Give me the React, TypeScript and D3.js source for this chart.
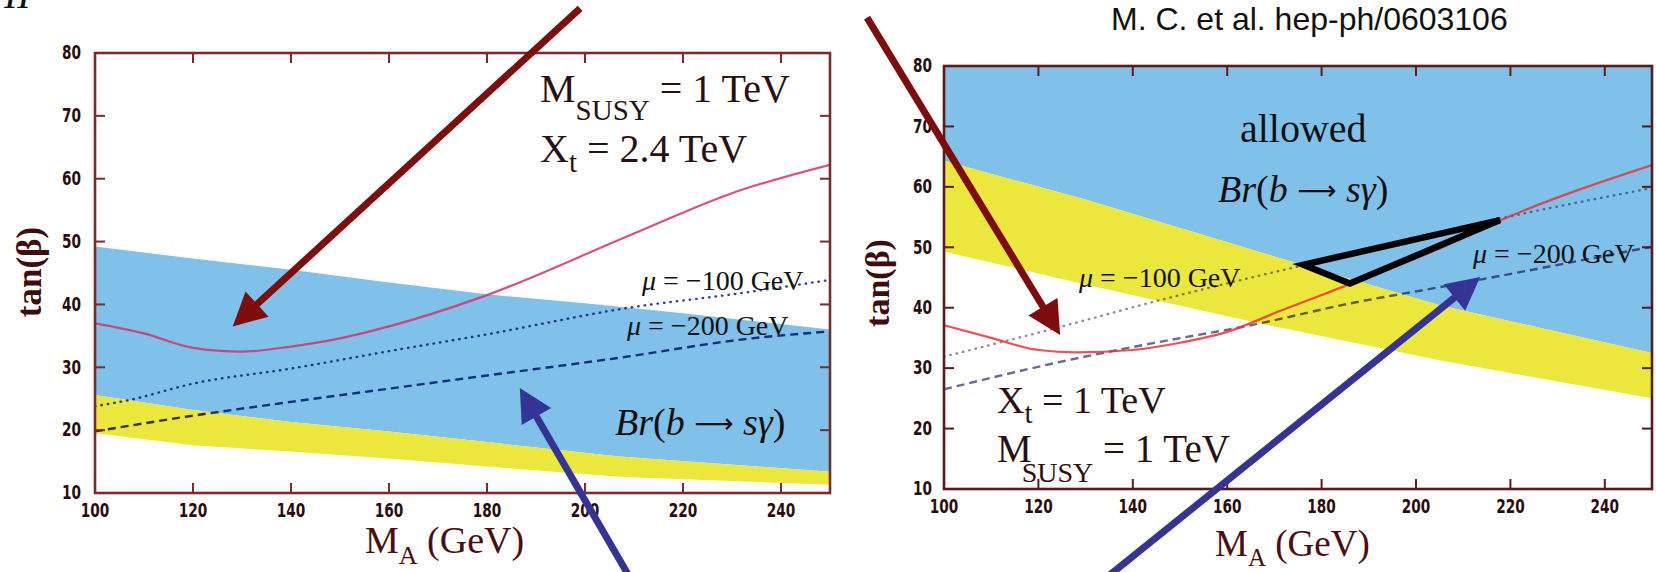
import React from "react";
import * as d3 from "d3";

type P = [number, number];

// ---------- shared axes ----------
const xDomain: P = [100, 250];
const yDomain: P = [10, 80];
const xTickLabels = [100, 120, 140, 160, 180, 200, 220, 240];
const yTickLabels = [10, 20, 30, 40, 50, 60, 70, 80];

// ---------- Left panel (X_t = 2.4 TeV) : [M_A, tanβ] ----------
const leftBlueTop: P[] = [[100, 49.2], [120, 47.3], [140, 45.5], [160, 43.5], [180, 41.6], [200, 40.2], [220, 38.6], [250, 36]];
const leftYellowTop: P[] = [[100, 25.6], [120, 23.2], [140, 21.3], [160, 19.8], [180, 18.1], [207, 15.8], [250, 13.4]];
const leftYellowBottom: P[] = [[100, 19.5], [120, 17.6], [140, 16.6], [160, 15.5], [180, 14.2], [207, 12.6], [250, 11.3]];
const leftHiggs: P[] = [[100, 37], [110, 35.4], [120, 33.1], [130, 32.5], [140, 33.3], [150, 34.6], [160, 36.5], [179, 41.2], [210, 51.3], [230, 57.7], [250, 62.2]];
const leftMu100: P[] = [[100, 23.8], [107, 24.8], [120, 27.4], [140, 29.8], [161, 32.7], [179, 35.1], [210, 39.6], [230, 41.6], [250, 43.9]];
const leftMu200: P[] = [[100, 19.8], [120, 22.3], [140, 24.5], [160, 26.6], [180, 28.7], [206, 31.4], [234, 34.6], [250, 35.7]];
const leftArrowRed: P[] = [[199, 87.1], [128.1, 36.5]];
const leftArrowBlue: P[] = [[211.2, -6.2], [186.7, 26.7]];

// ---------- Right panel (X_t = 1 TeV) ----------
const rightBlueTop: P[] = xDomain.map((v) => [v, yDomain[1]] as P);
const rightYellowTop: P[] = [[100, 64.3], [129, 58.1], [150, 53.2], [175, 47.3], [205, 40.4], [250, 32.5]];
const rightYellowBottom: P[] = [[100, 49.3], [129, 44.0], [167, 37.4], [205, 31.3], [250, 25]];
const rightHiggs: P[] = [[100, 37.1], [110, 35.0], [120, 33.0], [128, 32.6], [140, 33.0], [150, 34.2], [160, 36.0], [171, 39.4], [186, 43.9], [205, 49.8], [218, 54.5], [250, 63.6]];
const rightMu100: P[] = [[100, 31.9], [125, 36.9], [145, 41.1], [163, 44.6], [176, 47], [218, 54.8], [250, 59.8]];
const rightMu200: P[] = [[100, 26.5], [125, 31.1], [144, 34.1], [165, 37.1], [186, 40.7], [205, 43.4], [250, 50.1]];
const rightArrowRed: P[] = [[83.7, 88], [124.6, 35.5]];
const rightArrowBlue: P[] = [[129.9, -7.5], [213.6, 45.1]];
const rightTriangle: P[] = [[176.1, 47.1], [186, 44.0], [217.8, 54.5]];

const serif = "'Liberation Serif', 'DejaVu Serif', 'Times New Roman', serif";
const sans = "'Liberation Sans', Arial, sans-serif";
const BLUE = "#80c1ea";
const YELLOW = "#ebe73c";

type PanelProps = {
  id: string;
  xr: P;
  yr: P;
  frame: string;
  blueTop: P[];
  yellowTop: P[];
  yellowBottom: P[];
  higgs: P[];
  higgsColor: string;
  mu100: P[];
  mu100Color: string;
  mu200: P[];
  mu200Color: string;
  yLabelGap: number;
  xLabelOff: number;
  children?: (x: d3.ScaleLinear<number, number>, y: d3.ScaleLinear<number, number>) => React.ReactNode;
};

function Arrow({ x, y, pts, color, width }: { x: any; y: any; pts: P[]; color: string; width: number }) {
  const x0 = x(pts[0][0]), y0 = y(pts[0][1]);
  const x1 = x(pts[1][0]), y1 = y(pts[1][1]);
  const dx = x1 - x0, dy = y1 - y0;
  const L = Math.hypot(dx, dy);
  const ux = dx / L, uy = dy / L;
  const headLen = 33, half = 17;
  const bx = x1 - ux * headLen, by = y1 - uy * headLen;
  const px = -uy, py = ux;
  return (
    <g>
      <line x1={x0} y1={y0} x2={bx + ux * 3} y2={by + uy * 3} stroke={color} strokeWidth={width} />
      <polygon points={`${x1},${y1} ${bx + px * half},${by + py * half} ${bx - px * half},${by - py * half}`} fill={color} />
    </g>
  );
}

function Panel(p: PanelProps) {
  const x = d3.scaleLinear().domain(xDomain).range(p.xr);
  const y = d3.scaleLinear().domain(yDomain).range(p.yr);
  const lin = d3.line<P>().x((d) => x(d[0])).y((d) => y(d[1]));
  const smooth = d3.line<P>().x((d) => x(d[0])).y((d) => y(d[1])).curve(d3.curveMonotoneX);
  const band = (top: P[], bottom: P[]) => lin([...top, ...[...bottom].reverse()]) + "Z";
  const [xl, xrr] = p.xr;
  const [yb, yt] = p.yr;
  const tick = 10;
  const xMarks = xTickLabels.filter((v) => v > xDomain[0]);
  const yMarks = yTickLabels.filter((v) => v > yDomain[0] && v < yDomain[1]);
  return (
    <g>
      <defs>
        <clipPath id={p.id}>
          <rect x={xl} y={yt} width={xrr - xl} height={yb - yt} />
        </clipPath>
      </defs>
      <g clipPath={`url(#${p.id})`}>
        <path d={band(p.blueTop, p.yellowTop)} fill={BLUE} />
        <path d={band(p.yellowTop, p.yellowBottom)} fill={YELLOW} />
        <path d={smooth(p.mu100) || ""} fill="none" stroke={p.mu100Color} strokeWidth={2.4} strokeLinecap="round" strokeDasharray="0.5 6" style={{ mixBlendMode: "multiply" }} />
        <path d={smooth(p.mu200) || ""} fill="none" stroke={p.mu200Color} strokeWidth={2.4} strokeDasharray="8 5" style={{ mixBlendMode: "multiply" }} />
        <path d={smooth(p.higgs) || ""} fill="none" stroke={p.higgsColor} strokeWidth={2.2} opacity={0.85} />
      </g>
      {/* frame */}
      <rect x={xl} y={yt} width={xrr - xl} height={yb - yt} fill="none" stroke={p.frame} strokeWidth={2.6} />
      {xMarks.map((v) => (
        <g key={"xt" + v}>
          <line x1={x(v)} x2={x(v)} y1={yb} y2={yb - tick} stroke={p.frame} strokeWidth={2} />
          <line x1={x(v)} x2={x(v)} y1={yt} y2={yt + tick} stroke={p.frame} strokeWidth={2} />
        </g>
      ))}
      {yMarks.map((v) => (
        <g key={"yt" + v}>
          <line x1={xl} x2={xl + tick} y1={y(v)} y2={y(v)} stroke={p.frame} strokeWidth={2} />
          <line x1={xrr} x2={xrr - tick} y1={y(v)} y2={y(v)} stroke={p.frame} strokeWidth={2} />
        </g>
      ))}
      {xTickLabels.map((v) => (
        <text
          key={"xl" + v}
          transform={`translate(${x(v)},${yb + p.xLabelOff}) scale(0.72,1)`}
          textAnchor="middle"
          dominantBaseline="central"
          fontFamily="'DejaVu Sans', sans-serif"
          fontWeight="bold"
          fontSize={19}
          fill="#2a0c0c"
        >
          {v}
        </text>
      ))}
      {yTickLabels.map((v) => (
        <text
          key={"yl" + v}
          transform={`translate(${xl - p.yLabelGap},${y(v)}) scale(0.72,1)`}
          textAnchor="end"
          dominantBaseline="central"
          fontFamily="'DejaVu Sans', sans-serif"
          fontWeight="bold"
          fontSize={19}
          fill="#2a0c0c"
        >
          {v}
        </text>
      ))}
      {p.children ? p.children(x, y) : null}
    </g>
  );
}

function Mu({ x, y, label }: { x: number; y: number; label: string }) {
  return (
    <text x={x} y={y} fontFamily={serif} fontSize={28} fill="#111">
      <tspan fontStyle="italic">μ</tspan>
      {" = −" + label + " GeV"}
    </text>
  );
}

function Bsg({ x, y, size }: { x: number; y: number; size: number }) {
  return (
    <text x={x} y={y} fontFamily={serif} fontSize={size} fill="#111">
      <tspan fontStyle="italic">Br</tspan>(<tspan fontStyle="italic">b</tspan>{" "}
      <tspan fontFamily="'DejaVu Sans', sans-serif" fontSize={size * 0.72} dy={-2}>⟶</tspan>
      <tspan dy={2}> </tspan>
      <tspan fontStyle="italic">sγ</tspan>)
    </text>
  );
}

export default function App() {
  return (
    <svg width={1656} height={572} style={{ position: "absolute", left: 0, top: 0, background: "#fff" }}>
      <rect x={0} y={0} width={1656} height={572} fill="#fff" />
      {/* cut-off text at very top-left */}
      <text x={4} y={8} fontFamily={serif} fontStyle="italic" fontSize={40} fill="#111">II</text>

      <text x={1111} y={30} fontFamily={sans} fontSize={32} fill="#111">M. C. et al. hep-ph/0603106</text>

      <Panel
        id="clipL"
        xr={[95, 830]}
        yr={[493, 53]}
        frame="#7a2c2c"
        blueTop={leftBlueTop}
        yellowTop={leftYellowTop}
        yellowBottom={leftYellowBottom}
        higgs={leftHiggs}
        higgsColor="#d8306a"
        mu100={leftMu100}
        mu100Color="#34448c"
        mu200={leftMu200}
        mu200Color="#2c3c8c"
        yLabelGap={14}
        xLabelOff={18}
      >
        {(x, y) => (
          <g>
            <text x={540} y={101.7} fontFamily={serif} fontSize={40} fill="#2a1010">
              M<tspan dy={18} fontSize={29}>SUSY</tspan>
              <tspan dy={-18}> = 1 TeV</tspan>
            </text>
            <text x={540} y={161.7} fontFamily={serif} fontSize={40} fill="#2a1010">
              X<tspan dy={10} fontSize={29}>t</tspan>
              <tspan dy={-10}> = 2.4 TeV</tspan>
            </text>
            <Mu x={642} y={290} label="100" />
            <Mu x={627} y={335} label="200" />
            <Bsg x={615} y={435} size={38} />
            <Arrow x={x} y={y} pts={leftArrowRed} color="#7f0c0c" width={7} />
            <Arrow x={x} y={y} pts={leftArrowBlue} color="#343496" width={7} />
          </g>
        )}
      </Panel>

      <Panel
        id="clipR"
        xr={[944, 1652]}
        yr={[489, 66]}
        frame="#5c1a1a"
        blueTop={rightBlueTop}
        yellowTop={rightYellowTop}
        yellowBottom={rightYellowBottom}
        higgs={rightHiggs}
        higgsColor="#ee3036"
        mu100={rightMu100}
        mu100Color="#8a8aa6"
        mu200={rightMu200}
        mu200Color="#6a6a92"
        yLabelGap={12}
        xLabelOff={18}
      >
        {(x, y) => (
          <g>
            <text x={1240} y={141.7} fontFamily={serif} fontSize={40} fill="#111">allowed</text>
            <Bsg x={1218} y={201.7} size={38} />
            <Mu x={1079} y={286.7} label="100" />
            <Mu x={1473} y={263} label="200" />
            <text x={997} y={413} fontFamily={serif} fontSize={38} fill="#2a1010">
              X<tspan dy={10} fontSize={29}>t</tspan>
              <tspan dy={-10}> = 1 TeV</tspan>
            </text>
            <text x={997} y={461.7} fontFamily={serif} fontSize={39} fill="#2a1010">
              M<tspan dx={-10} dy={20} fontSize={28}>SUSY</tspan>
              <tspan dy={-20}> = 1 TeV</tspan>
            </text>
            <polygon
              points={rightTriangle.map((d) => `${x(d[0])},${y(d[1])}`).join(" ")}
              fill="none"
              stroke="#000"
              strokeWidth={6.5}
              strokeLinejoin="miter"
            />
            <Arrow x={x} y={y} pts={rightArrowRed} color="#7f0c0c" width={7} />
            <Arrow x={x} y={y} pts={rightArrowBlue} color="#343496" width={7} />
          </g>
        )}
      </Panel>

      {/* axis titles */}
      <text transform="translate(41,272) rotate(-90)" textAnchor="middle" fontFamily={serif} fontWeight="bold" fontSize={35} fill="#3d0c0c">tan(β)</text>
      <text transform="translate(889,283) rotate(-90)" textAnchor="middle" fontFamily={serif} fontWeight="bold" fontSize={34} fill="#3d0c0c">tan(β)</text>

      <text x={365} y={553} fontFamily={serif} fontSize={38} fill="#4a0e0e">
        M<tspan dy={11} fontSize={26}>A</tspan>
        <tspan dy={-11}> (GeV)</tspan>
      </text>
      <text x={1215} y={556} fontFamily={serif} fontSize={37} fill="#4a0e0e">
        M<tspan dy={10} fontSize={25}>A</tspan>
        <tspan dy={-10}> (GeV)</tspan>
      </text>
    </svg>
  );
}
